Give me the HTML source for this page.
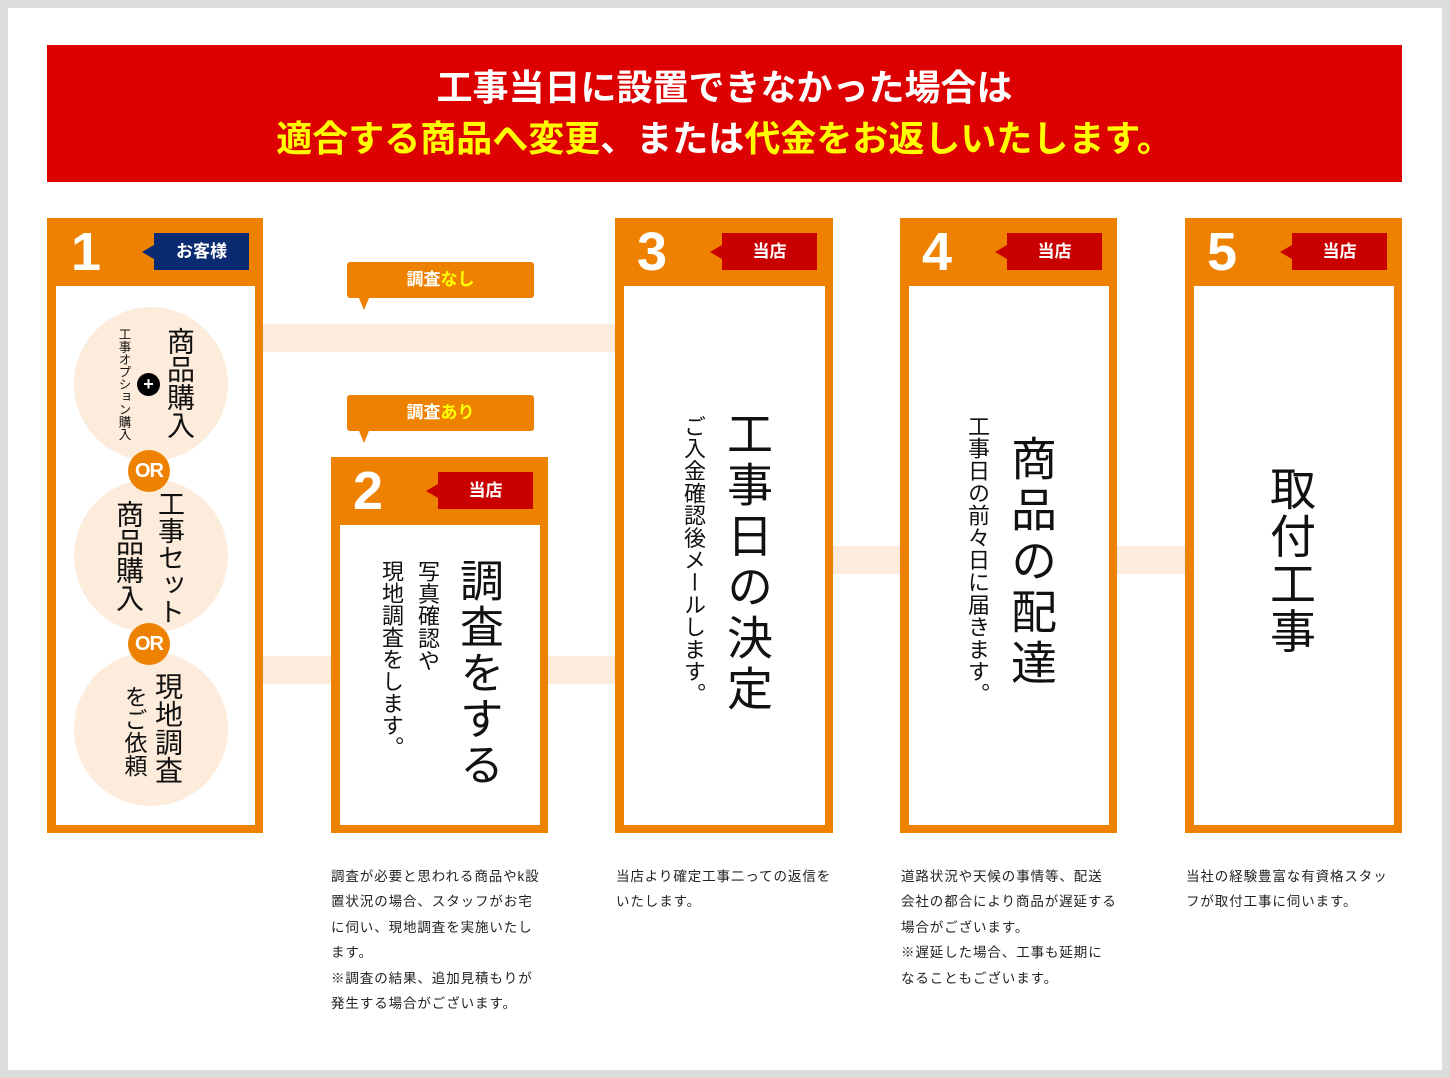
<!DOCTYPE html>
<html><head><meta charset="utf-8"><style>
*{margin:0;padding:0;box-sizing:border-box}
body{width:1450px;height:1078px;background:#dcdcdc;position:relative;overflow:hidden;font-family:"Liberation Sans","Noto Sans CJK JP",sans-serif}
.wrap{position:absolute;left:8px;top:8px;width:1434px;height:1062px;background:#fff}
.a{position:absolute}
.banner{left:47px;top:45px;width:1355px;height:137px;background:#dd0000;color:#fff;font-weight:bold;font-size:36px;text-align:center;padding-top:17px}
.banner div{height:51px;line-height:51px;white-space:nowrap}
.y{color:#ffff00}
.band{background:#fdebdb}
.col{background:#ee8100}
.in{position:absolute;left:9px;right:8px;top:68px;bottom:8px;background:#fff}
.num{position:absolute;left:22px;top:6px;color:#fff;font-size:54px;font-weight:bold;line-height:56px}
.badge{position:absolute;left:107px;top:15px;width:95px;height:37px;background:#c80000;color:#fff;font-weight:bold;font-size:17px;text-align:center;line-height:37px}
.badge:before{content:"";position:absolute;left:-12px;top:12px;border-right:12px solid #c80000;border-top:7px solid transparent;border-bottom:7px solid transparent}
.nv{background:#0a2a72}.nv:before{border-right-color:#0a2a72}
.v{position:absolute;writing-mode:vertical-rl;line-height:1;color:#111;white-space:nowrap}
.circ{position:absolute;width:154px;height:154px;border-radius:50%;background:#fdebdb}
.or{position:absolute;width:42px;height:42px;border-radius:50%;background:#ee8100;color:#fff;font-weight:bold;font-size:20px;text-align:center;line-height:42px;letter-spacing:-1px}
.call{position:absolute;left:347px;width:187px;height:36px;background:#ee8100;border-radius:3px;color:#fff;font-weight:bold;font-size:17px;text-align:center;line-height:36px}
.call:after{content:"";position:absolute;left:12px;top:36px;border-top:12px solid #ee8100;border-left:5px solid transparent;border-right:5px solid transparent}
.note{position:absolute;top:864px;font-size:13.5px;letter-spacing:0.9px;line-height:25.4px;color:#222;white-space:nowrap}
</style></head><body>
<div class="wrap"></div>
<div class="a banner"><div>工事当日に設置できなかった場合は</div><div><span class="y">適合する商品へ変更</span>、または<span class="y">代金をお返しいたします。</span></div></div>

<div class="a band" style="left:263px;top:324px;width:352px;height:28px"></div>
<div class="a band" style="left:263px;top:656px;width:352px;height:28px"></div>
<div class="a band" style="left:833px;top:546px;width:352px;height:28px"></div>

<div class="call" style="top:262px">調査<span class="y">なし</span></div>
<div class="call" style="top:395px">調査<span class="y">あり</span></div>

<div class="a col" style="left:47px;top:218px;width:216px;height:615px"><div class="in"></div><div class="num" style="left:24px">1</div><div class="badge nv">お客様</div></div>
<div class="a col" style="left:331px;top:457px;width:217px;height:376px"><div class="in"></div><div class="num">2</div><div class="badge">当店</div></div>
<div class="a col" style="left:615px;top:218px;width:218px;height:615px"><div class="in"></div><div class="num">3</div><div class="badge">当店</div></div>
<div class="a col" style="left:900px;top:218px;width:217px;height:615px"><div class="in"></div><div class="num">4</div><div class="badge">当店</div></div>
<div class="a col" style="left:1185px;top:218px;width:217px;height:615px"><div class="in"></div><div class="num">5</div><div class="badge">当店</div></div>

<div class="circ" style="left:74px;top:307px"></div>
<div class="circ" style="left:74px;top:479px"></div>
<div class="circ" style="left:74px;top:652px"></div>
<div class="or" style="left:128px;top:450px">OR</div>
<div class="or" style="left:128px;top:623px">OR</div>
<div class="a" style="left:137px;top:373px;width:23px;height:23px;border-radius:50%;background:#000;color:#fff;text-align:center;line-height:22px;font-size:18px;font-weight:bold">+</div>
<div class="v" style="left:165px;top:327px;font-size:28px">商品購入</div>
<div class="v" style="left:117px;top:328px;font-size:12.5px">工事オプション購入</div>
<div class="v" style="left:155px;top:490px;font-size:27px">工事セット</div>
<div class="v" style="left:114px;top:500px;font-size:28px">商品購入</div>
<div class="v" style="left:153px;top:672px;font-size:28px">現地調査</div>
<div class="v" style="left:122px;top:685px;font-size:23px">をご依頼</div>

<div class="v" style="left:455px;top:558px;font-size:44px;letter-spacing:2px">調査をする</div>
<div class="v" style="left:416px;top:560px;font-size:22px;letter-spacing:0.4px">写真確認や</div>
<div class="v" style="left:380px;top:560px;font-size:22px;letter-spacing:0px">現地調査をします。</div>

<div class="v" style="left:724px;top:410px;font-size:46px;letter-spacing:5px">工事日の決定</div>
<div class="v" style="left:682px;top:415px;font-size:22px;letter-spacing:0.3px">ご入金確認後メールします。</div>

<div class="v" style="left:1008px;top:435px;font-size:46px;letter-spacing:5px">商品の配達</div>
<div class="v" style="left:966px;top:415px;font-size:22px;letter-spacing:0.3px">工事日の前々日に届きます。</div>

<div class="v" style="left:1267px;top:465px;font-size:46px;letter-spacing:1.5px">取付工事</div>

<div class="note" style="left:331px">調査が必要と思われる商品やk設<br>置状況の場合、スタッフがお宅<br>に伺い、現地調査を実施いたし<br>ます。<br>※調査の結果、追加見積もりが<br>発生する場合がございます。</div>
<div class="note" style="left:616px">当店より確定工事二っての返信を<br>いたします。</div>
<div class="note" style="left:901px">道路状況や天候の事情等、配送<br>会社の都合により商品が遅延する<br>場合がございます。<br>※遅延した場合、工事も延期に<br>なることもございます。</div>
<div class="note" style="left:1186px">当社の経験豊富な有資格スタッ<br>フが取付工事に伺います。</div>
</body></html>
